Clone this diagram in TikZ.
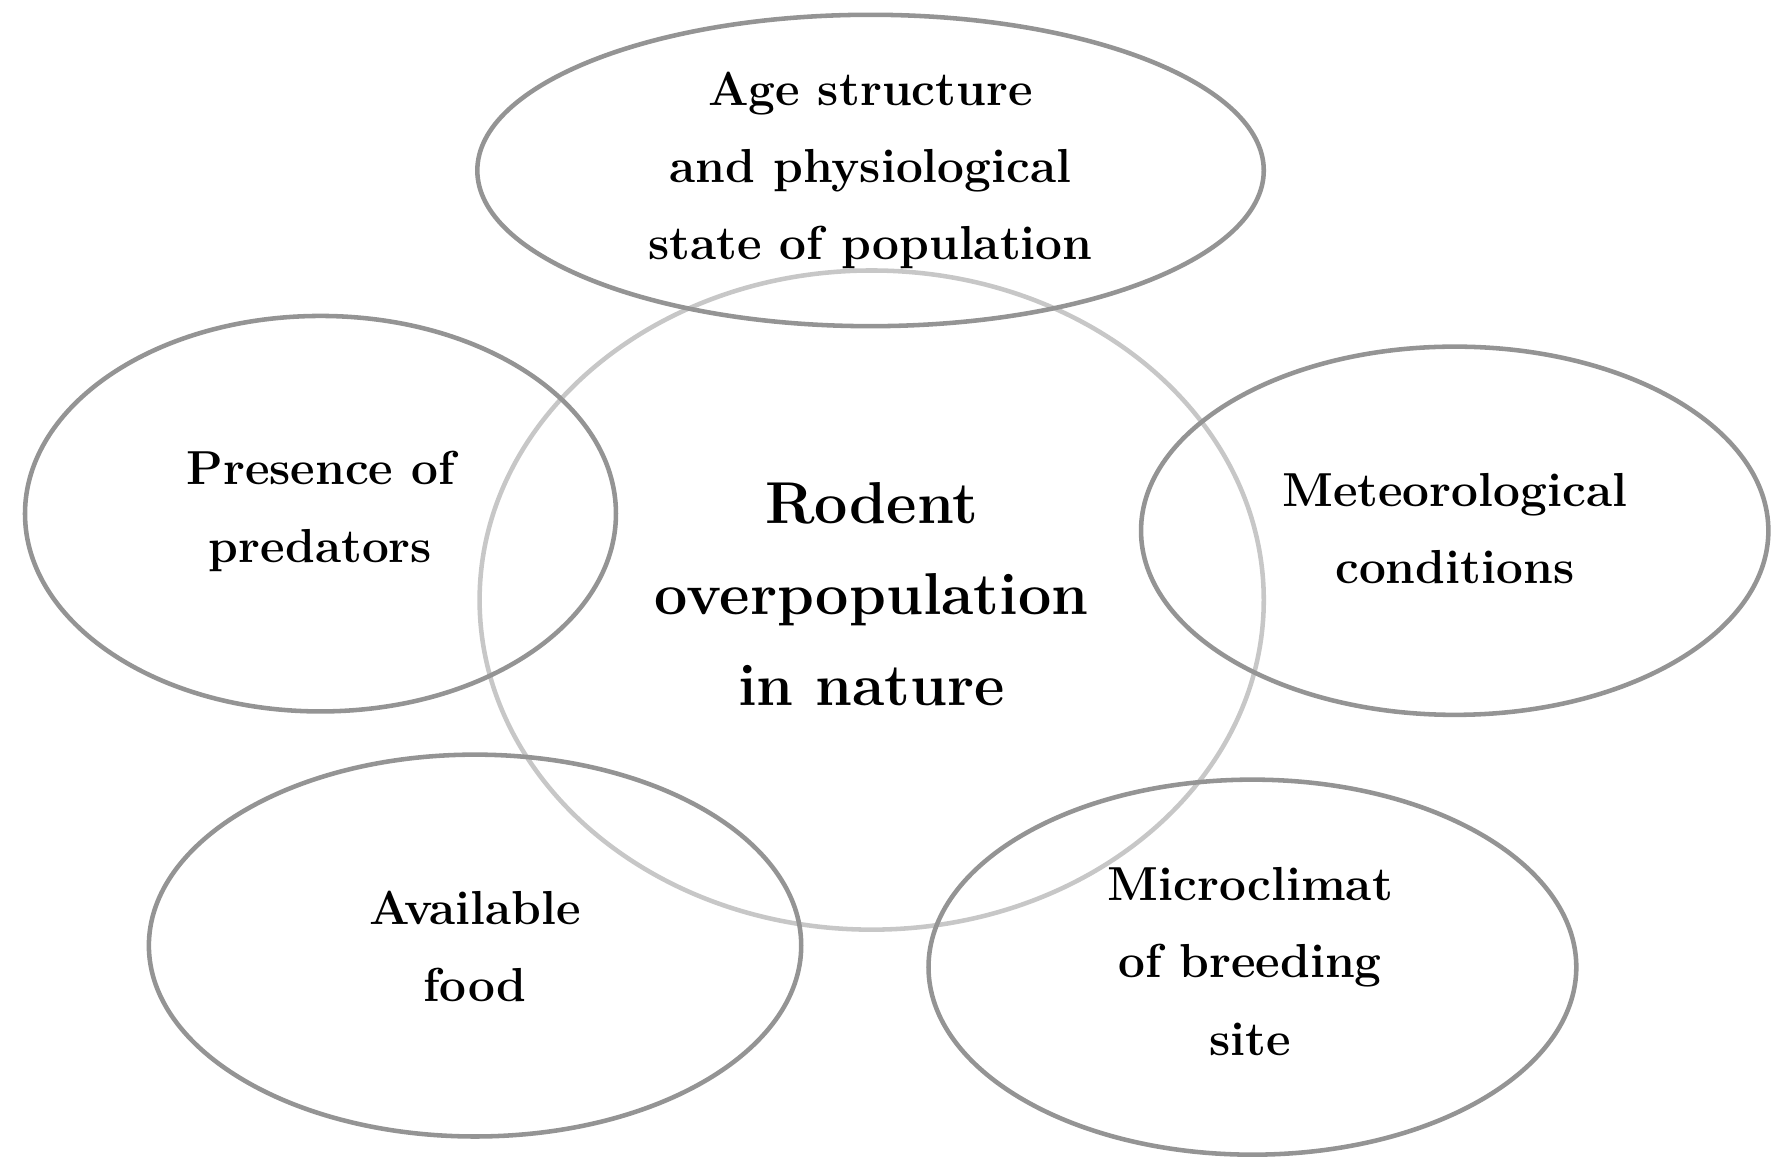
\documentclass[tikz,border=0pt]{standalone}
\begin{document}
\begin{tikzpicture}[x=1pt,y=-1pt,
  outer/.style={draw=black!42,line width=4pt},
  inner/.style={draw=black!22,line width=4pt},
  lbl/.style={align=center,font=\bfseries\fontsize{42}{68}\selectfont},
  clbl/.style={align=center,font=\bfseries\fontsize{52}{80}\selectfont}]
\useasboundingbox (0,0) rectangle (1568,1033);
\draw[inner] (767,528) ellipse [x radius=345,y radius=290];
\draw[outer] (766,150) ellipse [x radius=346,y radius=137];
\draw[outer] (282,452) ellipse [x radius=260,y radius=174];
\draw[outer] (1280,467) ellipse [x radius=276,y radius=162];
\draw[outer] (418,832) ellipse [x radius=287,y radius=168];
\draw[outer] (1102,851) ellipse [x radius=285,y radius=165];
\node[clbl] (c) at (767,523) {Rodent\\overpopulation\\in nature};
\node[lbl] (t) at (766,150) {Age structure\\and physiological\\state of population};
\node[lbl] (l) at (282,450) {Presence of\\predators};
\node[lbl] (r) at (1280,465) {Meteorological\\conditions};
\node[lbl] (bl) at (418,833) {Available\\food};
\node[lbl] (br) at (1100,846) {Microclimat\\of breeding\\site};
\end{tikzpicture}
\end{document}
